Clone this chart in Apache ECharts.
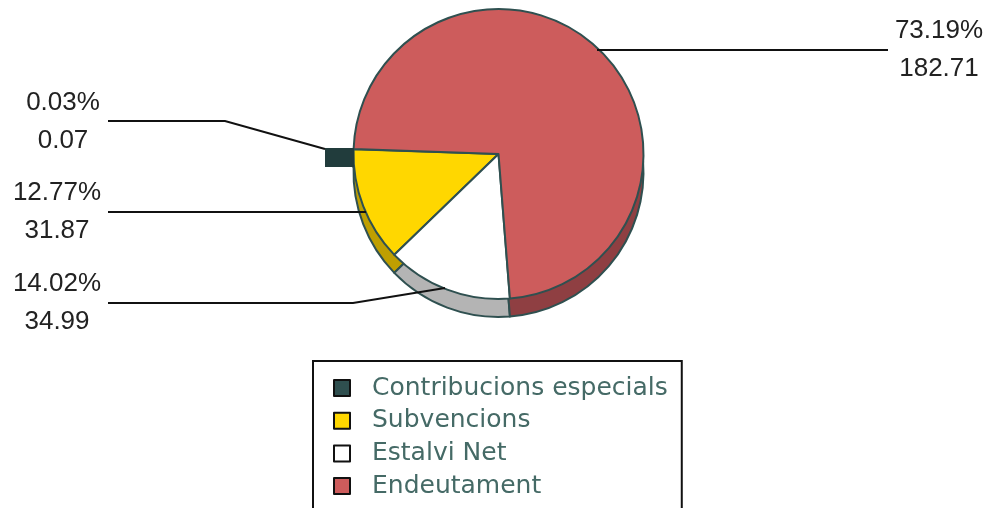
<!DOCTYPE html>
<html>
<head>
<meta charset="utf-8">
<title>Pie</title>
<script src="https://cdn.jsdelivr.net/npm/echarts@6/dist/echarts.min.js"></script>
<style>
  html, body { margin: 0; padding: 0; background: #fff; overflow: hidden; }
  #chart { width: 990px; height: 508px; }
</style>
</head>
<body>
<div id="chart"></div>
<script>
// dades llegides del gràfic
var names = ['Contribucions especials', 'Subvencions', 'Estalvi Net', 'Endeutament']
var values = [0.07, 31.87, 34.99, 182.71]
var percents = ['0.03%', '12.77%', '14.02%', '73.19%']
var topColors = ['#2f4f4f', '#ffd700', '#ffffff', '#cd5c5c']
var sideColors = ['#243c3c', '#bf9f00', '#b4b4b4', '#8f3f42']

var edge = '#2f5050'
// centre of each value label block
var labelPos = [[63, 122], [57, 212], [57, 303], [939, 50]]

function pieData(colors) {
  return names.map(function (name, i) {
    return { name: name, value: values[i], itemStyle: { color: colors[i] } }
  })
}

function leader(points) {
  return {
    type: 'polyline',
    z: 10,
    shape: { points: points },
    style: { stroke: '#111', lineWidth: 2, fill: null }
  }
}

var chart = echarts.init(document.getElementById('chart'))
chart.setOption({
  animation: false,
  backgroundColor: '#fff',
  legend: {
    left: 313,
    top: 361,
    height: 300,
    orient: 'vertical',
    selectedMode: false,
    data: names,
    icon: 'rect',
    itemWidth: 16,
    itemHeight: 16,
    itemGap: 7.7,
    padding: [14.5, 14, 60, 20],
    borderColor: '#111',
    borderWidth: 2,
    itemStyle: { borderColor: '#111', borderWidth: 2 },
    textStyle: {
      fontFamily: 'DejaVu Sans',
      fontSize: 25,
      color: '#456a66',
      padding: [0, 0, 0, 17]
    }
  },
  series: [
    {
      name: 'top',
      type: 'pie',
      z: 3,
      center: [498.5, 154],
      radius: [0, 145],
      startAngle: 178,
      clockwise: false,
      silent: true,
      avoidLabelOverlap: false,
      itemStyle: { borderColor: edge, borderWidth: 2 },
      label: {
        show: true,
        position: 'outer',
        fontFamily: 'Liberation Sans',
        fontSize: 26,
        lineHeight: 38,
        color: '#222',
        align: 'center',
        formatter: function (p) {
          return percents[p.dataIndex] + '\n' + p.value.toFixed(2)
        }
      },
      labelLine: { show: false },
      labelLayout: function (p) {
        return {
          x: labelPos[p.dataIndex][0],
          y: labelPos[p.dataIndex][1],
          align: 'center',
          verticalAlign: 'middle'
        }
      },
      data: pieData(topColors)
    },
    {
      name: 'side',
      type: 'pie',
      z: 2,
      center: [498.5, 172],
      radius: [0, 145],
      startAngle: 178,
      clockwise: false,
      silent: true,
      itemStyle: { borderColor: edge, borderWidth: 2 },
      label: { show: false },
      labelLine: { show: false },
      data: pieData(sideColors)
    }
  ],
  graphic: [
    {
      type: 'rect',
      z: 9,
      shape: { x: 325, y: 148, width: 29, height: 19 },
      style: { fill: '#213c3c' }
    },
    leader([[108, 121], [225, 121], [325, 149]]),
    leader([[108, 212], [366, 212]]),
    leader([[108, 303], [353, 303], [445, 288]]),
    leader([[597, 50], [888, 50]])
  ]
})
</script>
</body>
</html>
